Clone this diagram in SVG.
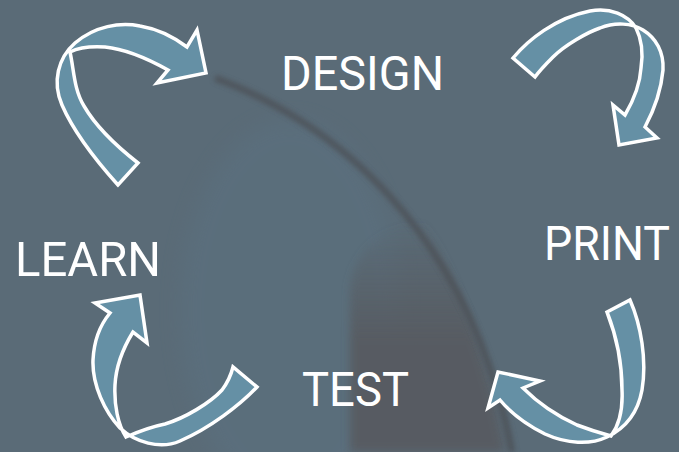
<svg xmlns="http://www.w3.org/2000/svg" width="679" height="452" viewBox="0 0 679 452">
<defs>
<filter id="blur8" x="-30%" y="-30%" width="160%" height="160%"><feGaussianBlur stdDeviation="10"/></filter>
<filter id="blur5" x="-30%" y="-30%" width="160%" height="160%"><feGaussianBlur stdDeviation="4"/></filter>
<filter id="blur3" x="-20%" y="-20%" width="140%" height="140%"><feGaussianBlur stdDeviation="2.5"/></filter>
<linearGradient id="darkg" x1="0" y1="220" x2="0" y2="340" gradientUnits="userSpaceOnUse">
<stop offset="0" stop-color="#575b61" stop-opacity="0"/>
<stop offset="1" stop-color="#575b61" stop-opacity="0.95"/>
</linearGradient>
</defs>
<style>
.arrow{fill:#6590a5;stroke:#ffffff;stroke-width:3.5;stroke-linejoin:miter;stroke-miterlimit:8}
.label{font-family:Roboto,"Liberation Sans",sans-serif;font-size:49px;fill:#ffffff}
</style>
<g id="background">
<rect x="0" y="0" width="679" height="452" fill="#5a6b77"/>
<ellipse cx="290" cy="310" rx="110" ry="190" fill="#5c7282" opacity="0.45" filter="url(#blur8)"/>
<path d="M350,452 L350,290 C352,250 390,220 425,222 C462,290 490,370 505,452 Z" fill="url(#darkg)" filter="url(#blur5)"/>
<path d="M215,78 C330,120 470,230 512,452" fill="none" stroke="#4c4f54" stroke-width="7" opacity="0.75" filter="url(#blur3)"/>
</g>
<g id="connectors">
<path id="arrow-learn-design" class="arrow" d="M118,185 C100,165 75,135 62,105 C52,82 58,58 75,43 C95,26 120,22 140,26 C158,29 175,38 187,47 L197,30 L206,73 L157,83 L168,70 C150,60 125,49 105,47 C90,46 78,48 70,52 C74,70 74,90 84,106 C95,125 115,145 138,163 Z"/>
<path id="arrow-design-print" class="arrow" d="M513,58 C528,40 555,18 590,11 C610,7 628,15 636,28 C642,40 643,55 641,68 C640,85 632,103 625,115 L613,105 L619,145 L657,138 L645,127 C653,112 661,92 663,70 C664,52 656,38 643,30 C632,23 615,22 600,28 C588,32 565,45 553,57 C545,65 540,70 535,77 Z"/>
<path id="arrow-print-test" class="arrow" d="M630,300 C641,325 647,360 642,390 C638,412 626,428 607,437 C590,445 567,444 545,434 C525,424 510,412 500,400 L488,408 L498,372 L540,381 L523,388 C535,400 555,415 577,425 C590,430 600,433 611,436 C619,425 623,410 622,390 C622,365 618,340 607,312 Z"/>
<path id="arrow-test-learn" class="arrow" d="M257,387 C240,405 210,428 180,441 C160,450 135,442 120,428 C105,412 92,385 93,360 C94,340 100,325 110,313 L95,303 L140,295 L147,343 L133,332 C125,345 116,365 115,385 C114,405 118,425 126,437 C140,431 150,427 165,424 C185,418 210,403 222,390 C228,382 231,375 233,367 Z"/>
</g>
<g id="node-design"><text class="label" x="281" y="90" textLength="163" lengthAdjust="spacingAndGlyphs">DESIGN</text></g>
<g id="node-print"><text class="label" transform="translate(544,260) scale(0.9,1)" x="0" y="0" textLength="140" lengthAdjust="spacingAndGlyphs">PRINT</text></g>
<g id="node-test"><text class="label" x="302" y="406" textLength="107" lengthAdjust="spacingAndGlyphs">TEST</text></g>
<g id="node-learn"><text class="label" x="15" y="276" textLength="146" lengthAdjust="spacingAndGlyphs">LEARN</text></g>
</svg>
